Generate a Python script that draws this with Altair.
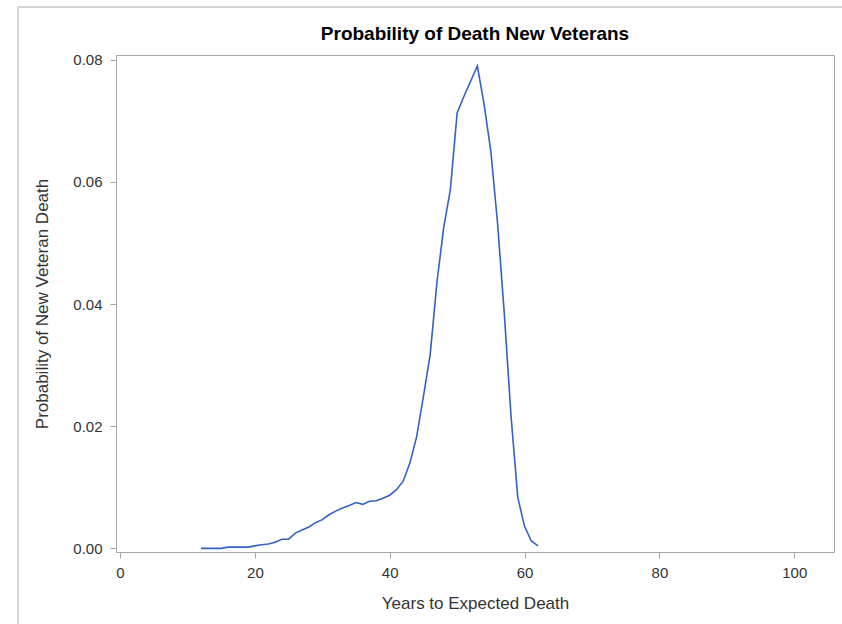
import altair as alt
import pandas as pd

# Years until expected death and probability of death for a new veteran
years = list(range(12, 63))
prob = [
    0.0000, 0.0000, 0.0000, 0.0000, 0.0002, 0.0002, 0.0002, 0.0002, 0.0004, 0.0006,  # 12-21
    0.0007, 0.0010, 0.0015, 0.0015, 0.0025, 0.0030, 0.0035, 0.0042, 0.0047, 0.0055,  # 22-31
    0.0061, 0.0066, 0.0070, 0.0075, 0.0072, 0.0077, 0.0078, 0.0082, 0.0087, 0.0096,  # 32-41
    0.0110, 0.0140, 0.0183, 0.0249, 0.0317, 0.0435, 0.0525, 0.0588, 0.0713, 0.0740,  # 42-51
    0.0765, 0.0790, 0.0727, 0.0650, 0.0532, 0.0384, 0.0216, 0.0083, 0.0036, 0.0012,  # 52-61
    0.0004,                                                                          # 62
]

x_ticks = [0, 20, 40, 60, 80, 100]
y_ticks = [0.00, 0.02, 0.04, 0.06, 0.08]
title_text = ["Probability of Death New Veterans"]

df = pd.DataFrame({"years": years, "prob": prob})
title_df = pd.DataFrame({"t": title_text})

FONT = "Liberation Sans, Arial, sans-serif"
FRAME = "#a6a6a6"
LINE = "#3462c4"

line = alt.Chart(df).mark_line(color=LINE, strokeWidth=1.6).encode(
    x=alt.X(
        "years:Q",
        title="Years to Expected Death",
        scale=alt.Scale(domain=[-0.6, 105.9], nice=False, zero=False),
        axis=alt.Axis(values=x_ticks, format="d"),
    ),
    y=alt.Y(
        "prob:Q",
        title="Probability of New Veteran Death",
        scale=alt.Scale(domain=[-0.0006, 0.0808], nice=False, zero=False),
        axis=alt.Axis(values=y_ticks, format=".2f"),
    ),
)

# Thin outer border around the graph region (top and left edges)
border_top = alt.Chart(df).mark_rule(color="#d4d4d4", strokeWidth=1, clip=False).encode(
    x=alt.value(-98), x2=alt.value(740), y=alt.value(-48)
)
border_left = alt.Chart(df).mark_rule(color="#d4d4d4", strokeWidth=1, clip=False).encode(
    x=alt.value(-98), y=alt.value(-48), y2=alt.value(580)
)

# Graph title, centred over the plot area
title = alt.Chart(title_df).mark_text(
    font=FONT,
    fontSize=19,
    fontWeight="bold",
    color="#000000",
    align="center",
    baseline="alphabetic",
    clip=False,
).encode(
    text="t:N",
    x=alt.value(359),
    y=alt.value(-15),
)

chart = (
    alt.layer(border_top, border_left, line, title)
    .properties(
        width=718,
        height=497,
        autosize=alt.AutoSizeParams(type="none"),
        padding={"left": 116, "top": 55, "right": 8, "bottom": 72},
        background="white",
    )
    .configure_view(stroke=FRAME, strokeWidth=1)
    .configure_axis(
        domain=False,
        ticks=True,
        tickColor=FRAME,
        tickSize=6,
        grid=False,
        labelFont=FONT,
        labelFontSize=15,
        labelColor="#333333",
        titleFont=FONT,
        titleFontSize=17,
        titleFontWeight="normal",
        titleColor="#333333",
    )
    .configure_axisX(labelPadding=7, titlePadding=15)
    .configure_axisY(labelPadding=8, titlePadding=21)
)

chart.save("out.html", embed_options={"renderer": "svg", "actions": False})
